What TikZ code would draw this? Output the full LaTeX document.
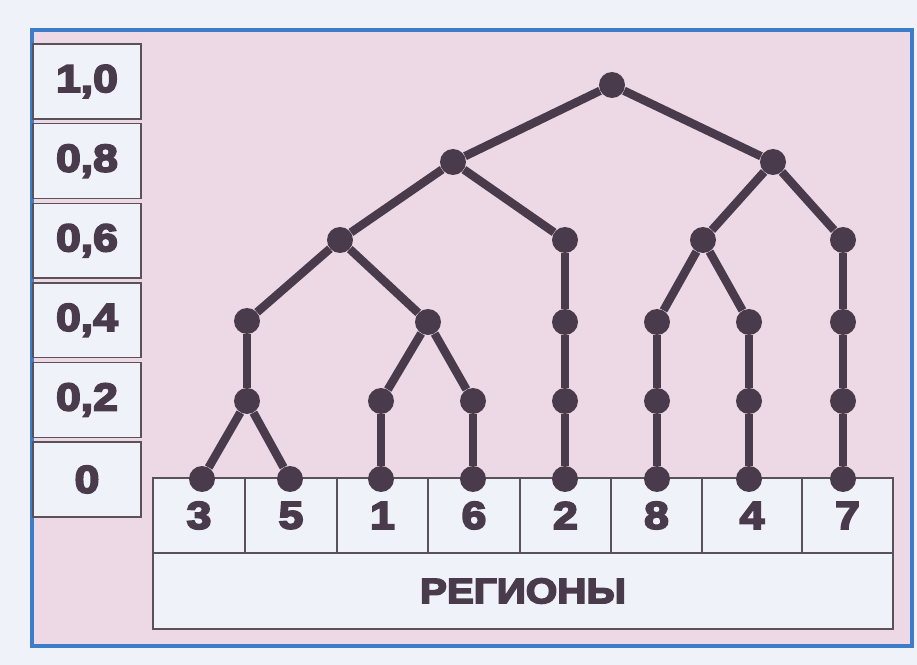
\documentclass[tikz,border=0pt]{standalone}
\usepackage{fontspec}
\setmainfont{Liberation Sans}[FakeStretch=1.15, FakeBold=5]
\usetikzlibrary{positioning}
\definecolor{pagebg}{HTML}{F0F2FA}
\definecolor{panel}{HTML}{EDD9E5}
\definecolor{frameblue}{HTML}{3D7CC9}
\definecolor{ink}{HTML}{4A3B4C}
\definecolor{cellbg}{HTML}{F0F2FA}
\definecolor{gridline}{HTML}{5A5258}

\begin{document}
\begin{tikzpicture}[x=0.02cm, y=-0.02cm, font=\bfseries]
        \tikzstyle{dot}=[circle, fill=ink, inner sep=0pt, minimum size=0.52cm]
        \tikzstyle{branch}=[draw=ink, line width=4.8pt]
        \tikzstyle{cell}=[draw=gridline, fill=cellbg, line width=0.8pt, inner sep=0pt, text=ink, font=\bfseries\fontsize{22}{24}\selectfont]

        % page and panel
        \useasboundingbox[fill=pagebg] (0,0) rectangle (917,665);
        \draw[frameblue, fill=panel, line width=2.2pt] (32,30) rectangle (912,646);

        % scale
        \foreach \lab [count=\i from 0] in {{1,0},{0,8},{0,6},{0,4},{0,2},{0}}
            \node[cell, minimum width=2.16cm, minimum height=1.5cm] (s\i) at (87,{81.5+79.6*\i}) {\lab};

        % regions
        \foreach \l/\r/\lab in {153/245/3, 245/337/5, 337/428/1, 428/520/6, 520/611/2, 611/702/8, 702/802/4, 802/893/7}
            \node[cell, minimum width={(\r-\l)*0.02cm}, minimum height=1.5cm] (c\lab) at ({(\l+\r)/2},515.5) {\lab};
        \node[cell, minimum width=14.8cm, minimum height=1.52cm, font=\bfseries\fontsize{20}{22}\selectfont] (reg) at (523,591) {РЕГИОНЫ};

        % tree
        \node[dot] (T)  at (612,85)  {};
        \node[dot] (U)  at (453,162) {};
        \node[dot] (V)  at (773,162) {};
        \node[dot] (A)  at (340,240) {};
        \node[dot] (B)  at (565,240) {};
        \node[dot] (C)  at (703,240) {};
        \node[dot] (E)  at (843,240) {};
        \node[dot] (A1) at (247,321) {};
        \node[dot] (A2) at (428,322) {};
        \node[dot] (B1) at (565,322) {};
        \node[dot] (C1) at (657,322) {};
        \node[dot] (C2) at (749,322) {};
        \node[dot] (E1) at (843,322) {};
        \node[dot] (P35) at (247,401) {};
        \node[dot] (P1) at (381,401) {};
        \node[dot] (P6) at (473,401) {};
        \node[dot] (P2) at (565,401) {};
        \node[dot] (P8) at (657,401) {};
        \node[dot] (P4) at (749,401) {};
        \node[dot] (P7) at (843,401) {};
        \node[dot] (L3) at (202,479) {};
        \node[dot] (L5) at (290,479) {};
        \node[dot] (L1) at (381,479) {};
        \node[dot] (L6) at (473,479) {};
        \node[dot] (L2) at (565,479) {};
        \node[dot] (L8) at (657,479) {};
        \node[dot] (L4) at (749,479) {};
        \node[dot] (L7) at (843,479) {};
        \path[branch]
        (T)  edge (U)  edge (V)
        (U)  edge (A)  edge (B)
        (V)  edge (C)  edge (E)
        (A)  edge (A1) edge (A2)
        (B)  edge (B1)
        (C)  edge (C1) edge (C2)
        (E)  edge (E1)
        (A1) edge (P35)
        (A2) edge (P1) edge (P6)
        (B1) edge (P2)
        (C1) edge (P8)
        (C2) edge (P4)
        (E1) edge (P7)
        (P35) edge (L3) edge (L5)
        (P1) edge (L1)
        (P6) edge (L6)
        (P2) edge (L2)
        (P8) edge (L8)
        (P4) edge (L4)
        (P7) edge (L7);
\end{tikzpicture}
\end{document}
